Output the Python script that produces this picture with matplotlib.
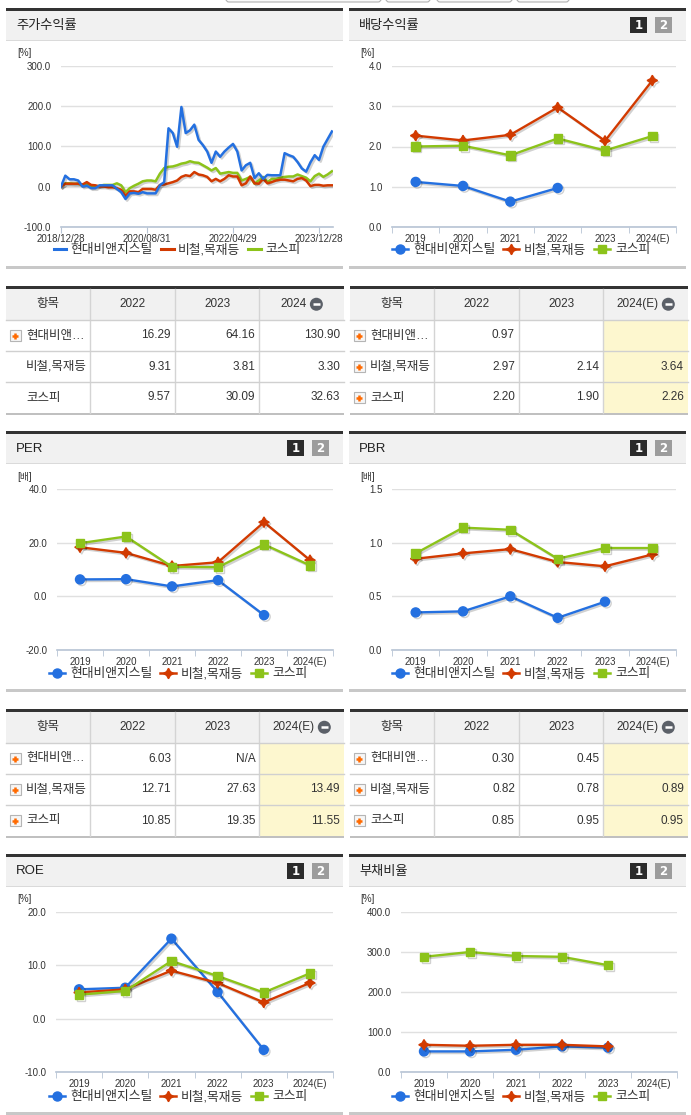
import numpy as np
import matplotlib
matplotlib.use('Agg')
import matplotlib.pyplot as plt
from matplotlib.patches import Rectangle, FancyBboxPatch, Circle
import matplotlib.patheffects as pe
from matplotlib.lines import Line2D

plt.rcParams['font.family'] = ['Liberation Sans', 'Noto Sans CJK KR', 'DejaVu Sans']

# ---------------- DATA ----------------
series_names = ['현대비앤지스틸', '비철,목재등', '코스피']
years = ['2019', '2020', '2021', '2022', '2023', '2024(E)']

stock_tick_pos = [0, 20, 40, 60]
stock_tick_labels = ['2018/12/28', '2020/08/31', '2022/04/29', '2023/12/28']
stock_blue = [0, 27, 18, 18, 15, 0, 2, -4, -4, 3, 3, 3, 3, -6, -14, -31, -17, -16, -18, -14,
              -17, -17, -17, 3, 11, 145, 133, 99, 198, 133, 140, 154, 116, 103, 87, 59, 87, 74, 87, 97,
              106, 87, 40, 53, 59, 21, 33, 19, 29, 28, 28, 28, 83, 78, 74, 61, 45, 37, 60, 78,
              66, 99, 118, 137]
stock_red = [0, 7, 7, 7, 7, 5, 11, 4, 3, 0, 0, -2, -2, -4, -8, -23, -12, -12, -14, -6,
             -6, -6, -8, 4, 5, 8, 11, 15, 24, 28, 26, 36, 30, 28, 24, 13, 19, 13, 19, 28,
             25, 25, 3, 8, 25, 8, 7, 19, 8, 11, 15, 17, 17, 15, 13, 19, 21, 15, 1, 4,
             4, 2, 3, 3]
stock_green = [0, 8, 8, 7, 7, 3, 7, -2, 0, 2, 4, 4, 4, 8, 3, -14, -4, 2, 7, 13,
               15, 15, 13, 32, 46, 49, 50, 53, 57, 59, 63, 60, 59, 53, 47, 40, 46, 32, 34, 36,
               34, 34, 15, 19, 24, 7, 15, 24, 11, 19, 19, 22, 24, 25, 25, 30, 26, 22, 13, 26,
               32, 24, 30, 38]

nan = np.nan
div_blue = [1.12, 1.02, 0.63, 0.97, nan, nan]
div_red = [2.27, 2.15, 2.29, 2.97, 2.14, 3.64]
div_green = [2.00, 2.02, 1.78, 2.20, 1.90, 2.26]

per_blue = [6.3, 6.4, 3.7, 6.03, -7.0, nan]
per_red = [18.3, 16.2, 11.3, 12.71, 27.63, 13.49]
per_green = [19.8, 22.3, 11.0, 10.85, 19.35, 11.55]

pbr_blue = [0.35, 0.36, 0.50, 0.30, 0.45, nan]
pbr_red = [0.85, 0.90, 0.94, 0.82, 0.78, 0.89]
pbr_green = [0.90, 1.14, 1.12, 0.85, 0.95, 0.95]

roe_blue = [5.5, 5.8, 15.0, 5.0, -5.85, nan]
roe_red = [4.9, 5.5, 9.0, 6.7, 3.05, 6.7]
roe_green = [4.5, 5.2, 10.8, 8.0, 4.9, 8.5]

debt_blue = [51.5, 51.5, 55.6, 64.0, 61.0, nan]
debt_red = [68.0, 65.6, 68.0, 68.0, 64.0, nan]
debt_green = [288.0, 300.0, 290.0, 288.0, 267.0, nan]

t1_left_headers = ['항목', '2022', '2023', '2024']
t1_left_rows = [['현대비앤…', '16.29', '64.16', '130.90'],
                ['비철,목재등', '9.31', '3.81', '3.30'],
                ['코스피', '9.57', '30.09', '32.63']]
t1_right_headers = ['항목', '2022', '2023', '2024(E)']
t1_right_rows = [['현대비앤…', '0.97', '', ''],
                 ['비철,목재등', '2.97', '2.14', '3.64'],
                 ['코스피', '2.20', '1.90', '2.26']]
t2_left_headers = ['항목', '2022', '2023', '2024(E)']
t2_left_rows = [['현대비앤…', '6.03', 'N/A', ''],
                ['비철,목재등', '12.71', '27.63', '13.49'],
                ['코스피', '10.85', '19.35', '11.55']]
t2_right_headers = ['항목', '2022', '2023', '2024(E)']
t2_right_rows = [['현대비앤…', '0.30', '0.45', ''],
                 ['비철,목재등', '0.82', '0.78', '0.89'],
                 ['코스피', '0.85', '0.95', '0.95']]

# ---------------- STYLE ----------------
BLUE = '#2470e0'
RED = '#d23a00'
GREEN = '#8cc31a'
AXC = '#b7c4d4'
GRID = '#e0e0e0'
TXT = '#333333'

W, H = 691, 1115
fig = plt.figure(figsize=(W / 100, H / 100), dpi=100)
fig.patch.set_facecolor('white')
bg = fig.add_axes([0, 0, 1, 1], zorder=0)
bg.set_xlim(0, W)
bg.set_ylim(H, 0)
bg.axis('off')


def pax(x0, y0, x1, y1):
    ax = fig.add_axes([x0 / W, 1 - y1 / H, (x1 - x0) / W, (y1 - y0) / H], zorder=2)
    ax.set_facecolor('none')
    return ax


def rect(x0, y0, x1, y1, color, **kw):
    bg.add_patch(Rectangle((x0, y0), x1 - x0, y1 - y0, facecolor=color, edgecolor='none', **kw))


# top cut-off buttons
for bx0, bx1 in [(226, 381), (386, 430), (437, 512), (517, 569)]:
    bg.add_patch(FancyBboxPatch((bx0, -12), bx1 - bx0, 14, boxstyle='round,pad=0,rounding_size=3',
                                facecolor='#fafafa', edgecolor='#b0b0b0', lw=0.8))


def panel(x0, x1, ytop, ybot, title, buttons=True):
    rect(x0, ytop, x1, ytop + 2.5, '#333333')
    rect(x0, ytop + 2.5, x1, ytop + 32, '#f1f1f1')
    rect(x0, ytop + 32, x1, ytop + 33, '#dadada')
    bg.text(x0 + 10, ytop + 17.5, title, fontsize=9.5, color='#222222', va='center', ha='left')
    if buttons:
        for i, (lab, col) in enumerate([('1', '#2b2b2b'), ('2', '#9c9c9c')]):
            bx = x1 - 56 + i * 25
            rect(bx, ytop + 9, bx + 17, ytop + 25, col)
            bg.text(bx + 8.5, ytop + 17.3, lab, fontsize=8.5, color='white', fontweight='bold',
                    ha='center', va='center', family='DejaVu Sans')
    rect(x0, ybot, x1, ybot + 2.5, '#c8c8c8')


def shadow():
    return [pe.SimpleLineShadow(offset=(1.2, -1.2), alpha=0.18, shadow_color='black'), pe.Normal()]


def style_y(ax, ticks, unit, ux, uy):
    ax.set_yticks(ticks)
    ax.set_yticklabels([f'{v:.1f}' for v in ticks])
    ax.tick_params(axis='y', length=0, labelsize=7, pad=7, labelcolor=TXT)
    ax.grid(axis='y', color=GRID, lw=1)
    ax.set_axisbelow(True)
    for s in ['top', 'right', 'left']:
        ax.spines[s].set_visible(False)
    ax.spines['bottom'].set_color(AXC)
    ax.spines['bottom'].set_linewidth(1.2)
    bg.text(ux, uy, unit, fontsize=7, color=TXT, ha='left', va='center')


def legend(ax, cx, cy, markers=True):
    specs = [(BLUE, 'o', 6.5), (RED, (4, 1, 0), 7.5), (GREEN, 's', 6)]
    hs = []
    for (c, m, ms), name in zip(specs, series_names):
        if markers:
            hs.append(Line2D([0], [0], color=c, lw=1.8, marker=m, ms=ms, label=name))
        else:
            hs.append(Line2D([0], [0], color=c, lw=2.2, label=name))
    ax.legend(handles=hs, loc='center', bbox_to_anchor=(cx / W, 1 - cy / H), bbox_transform=fig.transFigure,
              ncol=3, frameon=False, fontsize=9.2, handlelength=1.3 if markers else 1.0,
              handletextpad=0.35, columnspacing=0.6, borderpad=0, labelcolor=TXT)


def cat_chart(box, blue, red, green, ylim, ticks, unit, ux, uy, lcx, lcy):
    ax = pax(*box)
    x = np.arange(len(years))
    ax.plot(x, blue, color=BLUE, lw=1.7, marker='o', ms=6.5, path_effects=shadow(), clip_on=False)
    ax.plot(x, red, color=RED, lw=1.7, marker=(4, 1, 0), ms=7.5, path_effects=shadow(), clip_on=False)
    ax.plot(x, green, color=GREEN, lw=1.7, marker='s', ms=6, path_effects=shadow(), clip_on=False)
    ax.set_xlim(-0.5, len(years) - 0.5)
    ax.set_ylim(*ylim)
    ax.set_xticks(x)
    ax.set_xticklabels(years)
    ax.set_xticks(np.arange(-0.5, len(years), 1), minor=True)
    ax.tick_params(axis='x', which='major', length=0, labelsize=7, pad=5, labelcolor=TXT)
    ax.tick_params(axis='x', which='minor', length=4, color=AXC, direction='out')
    style_y(ax, ticks, unit, ux, uy)
    legend(ax, lcx, lcy, markers=True)
    return ax


def plus_icon(x, yc):
    bg.add_patch(Rectangle((x, yc - 5.5), 11, 11, facecolor='#f6f6f6', edgecolor='#b5b5b5', lw=0.8))
    bg.plot([x + 2.5, x + 8.5], [yc, yc], color='#ff6a00', lw=1.8, solid_capstyle='butt')
    bg.plot([x + 5.5, x + 5.5], [yc - 3, yc + 3], color='#ff6a00', lw=1.8, solid_capstyle='butt')


renderer = fig.canvas.get_renderer()


def table(x0, x1, ytop, headers, rows, icons, yellow):
    cw = (x1 - x0) / 4.0
    cols = [x0 + i * cw for i in range(5)]
    hh, rh = 31.5, 31
    ybot = ytop + 2.5 + hh + 3 * rh
    rect(x0, ytop, x1, ytop + 2.5, '#333333')
    rect(x0, ytop + 2.5, x1, ytop + 2.5 + hh, '#f1f1f1')
    if yellow:
        rect(cols[3], ytop + 2.5 + hh, x1, ybot, '#fdf7cf')
    for c in cols[1:4]:
        bg.plot([c, c], [ytop + 2.5, ybot], color='#d4d4d4', lw=1)
    for i in range(3):
        yl = ytop + 2.5 + hh + i * rh
        bg.plot([x0, x1], [yl, yl], color='#d0d0d0', lw=1)
    rect(x0, ybot, x1, ybot + 2, '#c0c0c0')
    yh = ytop + 2.5 + hh / 2
    for j, h in enumerate(headers):
        cx = (cols[j] + cols[j + 1]) / 2
        if j < 3:
            bg.text(cx, yh, h, fontsize=9 if j == 0 else 8.5, color=TXT, ha='center', va='center')
        else:
            t = bg.text(0, yh, h, fontsize=8.5, color=TXT, ha='left', va='center')
            bb = t.get_window_extent(renderer)
            tw = bb.width
            gw = tw + 3 + 13
            sx = cx - gw / 2
            t.set_x(sx)
            ccx = sx + tw + 3 + 6.5
            bg.add_patch(Circle((ccx, yh), 6.5, facecolor='#5b6068', edgecolor='none'))
            bg.plot([ccx - 3.5, ccx + 3.5], [yh, yh], color='white', lw=1.8, solid_capstyle='butt')
    for i, row in enumerate(rows):
        yc = ytop + 2.5 + hh + i * rh + rh / 2
        if icons[i]:
            plus_icon(x0 + 4, yc)
        bg.text(x0 + 20, yc, row[0], fontsize=9, color=TXT, ha='left', va='center')
        for j in range(1, 4):
            if row[j]:
                bg.text(cols[j + 1] - 4, yc, row[j], fontsize=8.5, color=TXT, ha='right', va='center')


# ---------------- PANELS ----------------
panel(6, 343, 8, 266, '주가수익률', buttons=False)
panel(349, 686, 8, 266, '배당수익률')
panel(6, 343, 431, 689, 'PER')
panel(349, 686, 431, 689, 'PBR')
panel(6, 343, 854, 1112, 'ROE')
panel(349, 686, 854, 1112, '부채비율')

# stock return chart
ax = pax(61, 66, 333, 226.7)
xm = np.arange(len(stock_blue))
ax.plot(xm, stock_green, color=GREEN, lw=1.8, path_effects=shadow())
ax.plot(xm, stock_red, color=RED, lw=1.8, path_effects=shadow())
ax.plot(xm, stock_blue, color=BLUE, lw=1.8, path_effects=shadow())
ax.set_xlim(0, 63.25)
ax.set_ylim(-100, 300)
ax.set_xticks(stock_tick_pos)
ax.set_xticklabels(stock_tick_labels)
ax.tick_params(axis='x', length=4, color=AXC, labelsize=7, pad=1.5, labelcolor=TXT)
style_y(ax, [-100, 0, 100, 200, 300], '[%]', 17, 53)
legend(ax, 177, 250, markers=False)

cat_chart((392, 66, 676, 227), div_blue, div_red, div_green, (0, 4), [0, 1, 2, 3, 4],
          '[%]', 360, 53, 521, 250)
cat_chart((57, 489, 333, 650), per_blue, per_red, per_green, (-20, 40), [-20, 0, 20, 40],
          '[배]', 17, 477, 178, 674)
cat_chart((392, 489, 676, 650), pbr_blue, pbr_red, pbr_green, (0, 1.5), [0, 0.5, 1.0, 1.5],
          '[배]', 360, 477, 521, 674)
cat_chart((56, 912, 333, 1072), roe_blue, roe_red, roe_green, (-10, 20), [-10, 0, 10, 20],
          '[%]', 17, 899, 178, 1097)
cat_chart((401, 912, 677, 1072), debt_blue, debt_red, debt_green, (0, 400), [0, 100, 200, 300, 400],
          '[%]', 360, 899, 521, 1097)

# ---------------- TABLES ----------------
table(6, 344, 286, t1_left_headers, t1_left_rows, [True, False, False], False)
table(350, 688, 286, t1_right_headers, t1_right_rows, [True, True, True], True)
table(6, 344, 709, t2_left_headers, t2_left_rows, [True, True, True], True)
table(350, 688, 709, t2_right_headers, t2_right_rows, [True, True, True], True)

fig.savefig('out.png', dpi=100, facecolor='white')
